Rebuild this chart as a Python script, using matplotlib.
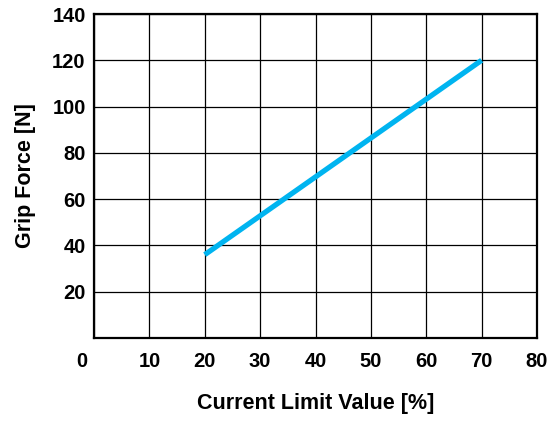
import matplotlib.pyplot as plt
import matplotlib.transforms as mtransforms

plt.rcParams['font.family'] = ['Liberation Sans', 'DejaVu Sans']
plt.rcParams['font.weight'] = 'bold'

# data
current_limit = [20, 70]
grip_force = [36, 120]
x_ticks = [0, 10, 20, 30, 40, 50, 60, 70, 80]
y_ticks = [20, 40, 60, 80, 100, 120, 140]

fig = plt.figure(figsize=(5.51, 4.23), dpi=100)
ax = fig.add_axes([94 / 551, 1 - 338 / 423, 443 / 551, 324 / 423])

ax.plot(current_limit, grip_force, color='#00B4F0', linewidth=3.8, solid_capstyle='butt')

ax.set_xlim(0, 80)
ax.set_ylim(0, 140)
ax.set_xticks(x_ticks)
ax.set_yticks(y_ticks)
ax.grid(True, color='black', linewidth=0.9)
ax.set_axisbelow(True)
ax.tick_params(length=0, labelsize=14.5)
ax.tick_params(axis='x', pad=10)
ax.tick_params(axis='y', pad=6)

# origin label sits a bit left of the axis
lbl0 = ax.get_xticklabels()[0]
lbl0.set_transform(lbl0.get_transform() + mtransforms.ScaledTranslation(-12 / 100, 0, fig.dpi_scale_trans))

for s in ax.spines.values():
    s.set_linewidth(1.6)
    s.set_color('black')

ax.set_xlabel('Current Limit Value [%]', fontsize=15.5, fontweight='bold', labelpad=16)
ax.set_ylabel('Grip Force [N]', fontsize=15.5, fontweight='bold', labelpad=12)

fig.savefig('out.png', dpi=100)
